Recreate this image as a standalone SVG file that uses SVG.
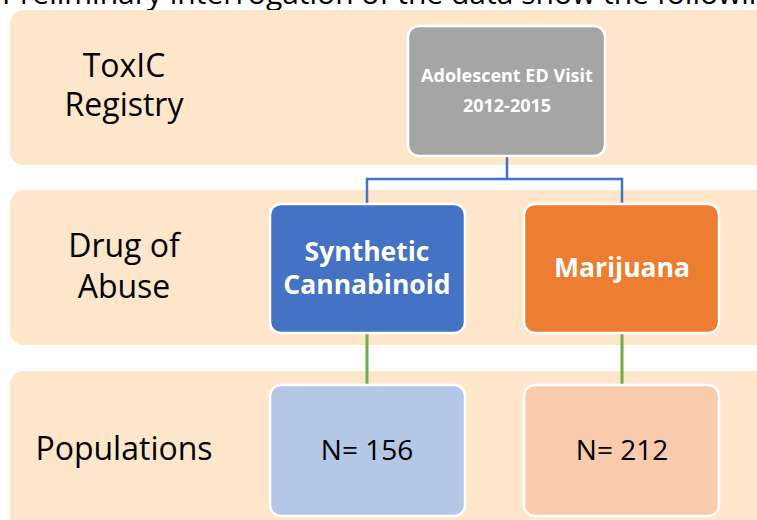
<svg xmlns="http://www.w3.org/2000/svg" width="757" height="520" viewBox="0 0 757 520">
<style>
.band{fill:#FEE6CB;}
.node{stroke:#FFFFFF;stroke-width:2.5;}
.lbl{font-family:"Open Sans","Liberation Sans",sans-serif;font-size:32px;fill:#000;text-anchor:middle;}
.wt{font-family:"Open Sans","Liberation Sans",sans-serif;font-weight:bold;fill:#FFFFFF;text-anchor:middle;}
.nt{font-family:"Open Sans","Liberation Sans",sans-serif;font-size:28px;fill:#000;text-anchor:middle;}
.blue{stroke:#4472C4;stroke-width:2.5;fill:none;}
.green{stroke:#70AD47;stroke-width:3;fill:none;}
</style>
<rect width="757" height="520" fill="#FFFFFF"/>
<text x="2" y="4" font-family="Open Sans, Liberation Sans, sans-serif" font-size="30" fill="#000">Preliminary interrogation of the data show the following</text>
<g id="bands">
<rect class="band" x="10" y="10" width="770" height="155" rx="14"/>
<rect class="band" x="10" y="190" width="770" height="155" rx="14"/>
<rect class="band" x="10" y="371" width="770" height="170" rx="14"/>
<text class="lbl" x="124" y="77">ToxIC</text>
<text class="lbl" x="124" y="116">Registry</text>
<text class="lbl" x="124" y="257">Drug of</text>
<text class="lbl" x="124" y="298">Abuse</text>
<text class="lbl" x="124" y="460">Populations</text>
</g>
<g id="connectors">
<polyline class="blue" points="507,156 507,179 367,179 367,203"/>
<polyline class="blue" points="507,179 622,179 622,203"/>
<line class="green" x1="367" y1="333" x2="367" y2="384"/>
<line class="green" x1="622" y1="333" x2="622" y2="384"/>
</g>
<g id="node-ed">
<rect class="node" x="408" y="26" width="197" height="130" rx="11" fill="#A5A5A5"/>
<text class="wt" x="507" y="82" font-size="18">Adolescent ED Visit</text>
<text class="wt" x="507" y="112" font-size="18">2012-2015</text>
</g>
<g id="node-synthetic">
<rect class="node" x="270" y="204" width="195" height="129" rx="11" fill="#4472C4"/>
<text class="wt" x="367" y="261" font-size="26.5">Synthetic</text>
<text class="wt" x="367" y="294" font-size="26.5">Cannabinoid</text>
</g>
<g id="node-marijuana">
<rect class="node" x="524" y="204" width="195" height="129" rx="11" fill="#ED7D31"/>
<text class="wt" x="622" y="277" font-size="26.5">Marijuana</text>
</g>
<g id="node-n156">
<rect class="node" x="270" y="385" width="195" height="131" rx="11" fill="#B4C7E7"/>
<text class="nt" x="367" y="460">N= 156</text>
</g>
<g id="node-n212">
<rect class="node" x="524" y="385" width="195" height="131" rx="11" fill="#F8CBAD"/>
<text class="nt" x="622" y="460">N= 212</text>
</g>
</svg>
